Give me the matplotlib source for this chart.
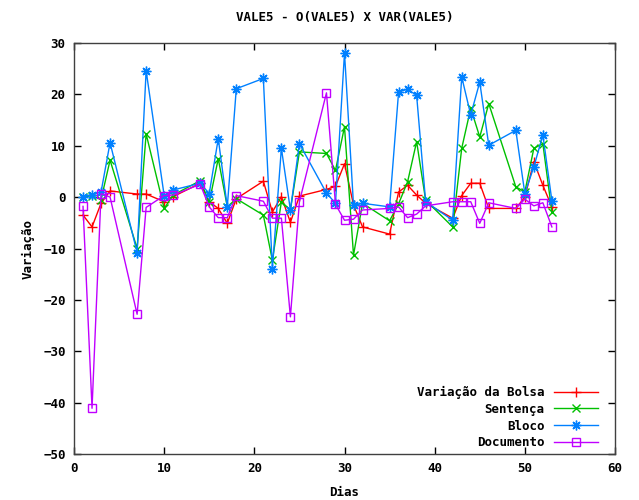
import numpy as np
import matplotlib.pyplot as plt

# dias de pregao
dias = [1, 2, 3, 4, 7, 8, 10, 11, 14, 15, 16, 17, 18, 21, 22, 23, 24, 25,
        28, 29, 30, 31, 32, 35, 36, 37, 38, 39, 42, 43, 44, 45, 46,
        49, 50, 51, 52, 53]

bolsa = [-3.5, -5.8, -1.2, 1.2, 0.6, 0.6, -0.9, 0.1, 2.7, -0.9, -2.2, -5.1, -0.3,
         3.1, -2.9, 0.1, -4.9, 0.2, 1.5, 2.1, 6.5, -1.5, -5.8, -7.2, 1.0, 2.3,
         0.4, -1.2, -4.1, 0.3, 2.7, 2.7, -2.2, -2.2, 0.0, 6.9, 2.3, -1.9]

sentenca = [0.0, 0.3, -0.5, 7.2, -10.0, 12.3, -2.2, 0.4, 3.2, -1.0, 7.5, -1.9, -0.3,
            -3.5, -12.3, -0.9, -2.5, 8.8, 8.5, 5.2, 13.7, -11.3, -1.2, -4.6, -1.3,
            3.0, 10.8, -0.6, -5.8, 9.5, 17.3, 11.7, 18.2, 2.0, 1.0, 9.5, 10.4, -2.9]

bloco = [0.0, 0.5, 1.0, 10.6, -10.8, 24.6, 0.3, 1.4, 2.7, 0.7, 11.4, -1.9, 21.1,
         23.1, -13.9, 9.5, -2.5, 10.4, 0.8, -1.2, 28.1, -1.6, -1.2, -1.9, 20.5,
         21.0, 19.8, -0.9, -4.5, 23.4, 16.0, 22.4, 10.1, 13.0, 0.7, 5.9, 12.1, -0.7]

documento = [-1.8, -41.1, 0.7, 0.0, -22.8, -2.0, 0.3, 0.4, 2.5, -1.9, -4.0, -4.0, 0.3,
             -0.8, -4.1, -4.1, -23.3, -0.9, 20.3, -1.4, -4.5, -4.3, -2.5, -2.2, -1.9,
             -4.0, -3.3, -1.7, -0.9, -0.9, -0.9, -5.1, -1.1, -2.2, -0.4, -1.7, -1.1, -5.8]

plt.rcParams['font.family'] = ['DejaVu Sans Mono']
plt.rcParams['font.weight'] = 'bold'
plt.rcParams['font.size'] = 9

fig = plt.figure(figsize=(6.39, 5.0), dpi=100)
ax = fig.add_axes([74 / 639, 1 - 454 / 500, (615 - 74) / 639, (454 - 43) / 500])

ax.plot(dias, bolsa, color='#ff0000', marker='+', ms=7, mew=1, lw=1,
        label='Variação da Bolsa')
ax.plot(dias, sentenca, color='#00c000', marker='x', ms=6, mew=1, lw=1,
        label='Sentença')
ax.plot(dias, bloco, color='#0080ff', marker=(8, 2, 0), ms=7, mew=1, lw=1,
        label='Bloco')
ax.plot(dias, documento, color='#c000ff', marker='s', ms=6, mew=1, lw=1,
        mfc='none', label='Documento')

ax.set_xlim(0, 60)
ax.set_ylim(-50, 30)
ax.set_xticks(np.arange(0, 61, 10))
ax.set_yticks(np.arange(-50, 31, 10))
ax.tick_params(direction='in', top=True, right=True, length=5, width=1, pad=6)
for s in ax.spines.values():
    s.set_linewidth(1)
    s.set_color('#404040')

ax.set_title('VALE5 - O(VALE5) X VAR(VALE5)', fontsize=9, fontweight='bold', pad=16)
ax.set_xlabel('Dias', fontweight='bold', labelpad=8)
ax.set_ylabel('Variação', fontweight='bold', labelpad=6)

ax.legend(loc='lower right', bbox_to_anchor=(0.985, -0.01), frameon=False,
          markerfirst=False, handlelength=3.5, labelspacing=0.3, borderaxespad=0.3)

fig.savefig('out.png', dpi=100)
